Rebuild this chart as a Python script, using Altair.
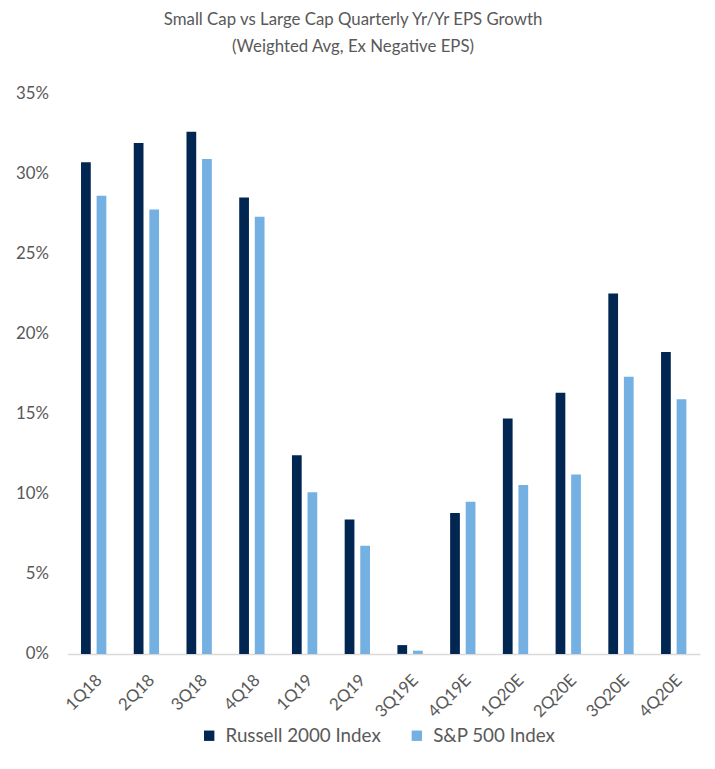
import altair as alt
import pandas as pd

quarters = ["1Q18", "2Q18", "3Q18", "4Q18", "1Q19", "2Q19", "3Q19E", "4Q19E",
            "1Q20E", "2Q20E", "3Q20E", "4Q20E"]
russell = [30.7, 31.9, 32.6, 28.5, 12.4, 8.4, 0.55, 8.8, 14.7, 16.3, 22.5, 18.85]
sp500 = [28.6, 27.75, 30.9, 27.3, 10.1, 6.75, 0.2, 9.5, 10.55, 11.2, 17.3, 15.9]
series = ["Russell 2000 Index", "S&P 500 Index"]
colors = ["#002651", "#74b0e2"]

rows = []
for q, r, s in zip(quarters, russell, sp500):
    rows.append({"quarter": q, "series": series[0], "value": r / 100})
    rows.append({"quarter": q, "series": series[1], "value": s / 100})
df = pd.DataFrame(rows)

FONT = "Lato"
GRAY = "#595959"

chart = alt.Chart(df).mark_bar().encode(
    x=alt.X("quarter:N", sort=quarters,
            scale=alt.Scale(paddingInner=0.52, paddingOuter=0.26),
            axis=alt.Axis(title=None, labelAngle=-45, ticks=False,
                          domainColor="#d9d9d9", domainWidth=1.5,
                          labelFont=FONT, labelFontSize=17, labelColor=GRAY,
                          labelPadding=18)),
    xOffset=alt.XOffset("series:N", sort=series,
                        scale=alt.Scale(paddingInner=0.375, paddingOuter=0)),
    y=alt.Y("value:Q", scale=alt.Scale(domain=[0, 0.35], nice=False),
            axis=alt.Axis(title=None, format=".0%", values=[0, 0.05, 0.1, 0.15, 0.2, 0.25, 0.3, 0.35],
                          grid=False, domain=False, ticks=False,
                          labelFont=FONT, labelFontSize=17, labelColor=GRAY,
                          labelPadding=19)),
    color=alt.Color("series:N", sort=series,
                    scale=alt.Scale(domain=series, range=colors),
                    legend=alt.Legend(title=None, orient="none", direction="horizontal",
                                      legendX=134, legendY=640,
                                      symbolType="square", symbolSize=110,
                                      symbolStrokeWidth=0,
                                      labelFont=FONT, labelFontSize=19, labelColor=GRAY,
                                      columnPadding=26, labelOffset=7,
                                      labelLimit=300)),
).properties(
    width=640,
    height=567,
    autosize="none",
    padding={"left": 60, "top": 82, "right": 7, "bottom": 104},
    title=alt.Title(
        ["Small Cap vs Large Cap Quarterly Yr/Yr EPS Growth",
         "(Weighted Avg, Ex Negative EPS)"],
        font=FONT, fontSize=17, fontWeight="normal", color=GRAY,
        lineHeight=27, anchor="middle", dx=-31, offset=29,
    ),
).configure_view(stroke=None)

chart.save("out.html", embed_options={"renderer": "svg", "actions": False})
